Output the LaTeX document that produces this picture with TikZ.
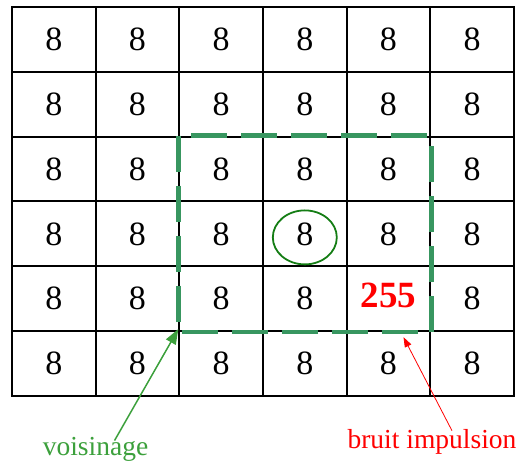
\documentclass[tikz,border=0pt]{standalone}
\usepackage{fontspec}
\setmainfont{Liberation Serif}
\usepackage{xcolor}
\usepackage{tikz}
\usetikzlibrary{arrows.meta, positioning, calc}

\definecolor{boxgreen}{RGB}{56,150,96}
\definecolor{ringgreen}{RGB}{20,125,20}
\definecolor{notegreen}{RGB}{60,160,60}

\tikzset{
  cell/.style={draw=black, line width=2pt, minimum width=83.67pt, minimum height=64.83pt,
               inner sep=0pt, font=\fontsize{34}{36}\selectfont},
  noise/.style={text=red, font=\fontsize{37}{40}\selectfont\bfseries},
  note/.style={font=\fontsize{27.5}{30}\selectfont, inner sep=0pt}
}

\begin{document}
\begin{tikzpicture}[x=1pt, y=-1pt]
\useasboundingbox (0,0) rectangle (519,463);

% Grid of pixels
\foreach \r in {0,...,5}
  \foreach \c in {0,...,5}
    \node[cell] (c\r\c) at ({53.8+83.67*\c}, {39.4+64.83*\r}) {\ifnum\r\c=44 \else 8\fi};

% Noise value
\node[noise] (val) at ([yshift=3pt]c44) {255};

% Central pixel
\draw[ringgreen, line width=1.8pt] ([yshift=-3.5pt]c33) ellipse (32pt and 27pt);

% Neighbourhood
\draw[boxgreen, line width=4.6pt, dash pattern=on 36pt off 14pt]
  (c22.north west) rectangle (c44.south east);

% Labels
\node[note, text=notegreen, anchor=base] (voisinage) at (95.5, 455) {voisinage};
\node[note, text=red, anchor=base] (impulse) at (432, 448) {bruit impulsion};

\coordinate (noisept) at ([xshift=15pt, yshift=-5pt]c44.south);
\draw[notegreen, line width=1.5pt, -{Triangle[length=15pt, width=11pt]}]
  ([xshift=19pt, yshift=-4pt]voisinage.north) -- ([yshift=1pt]c52.north west);
\draw[red, line width=0.8pt, -{Triangle[length=10pt, width=7pt]}]
  ([xshift=20pt, yshift=-2pt]impulse.north) -- (noisept);
\end{tikzpicture}
\end{document}
